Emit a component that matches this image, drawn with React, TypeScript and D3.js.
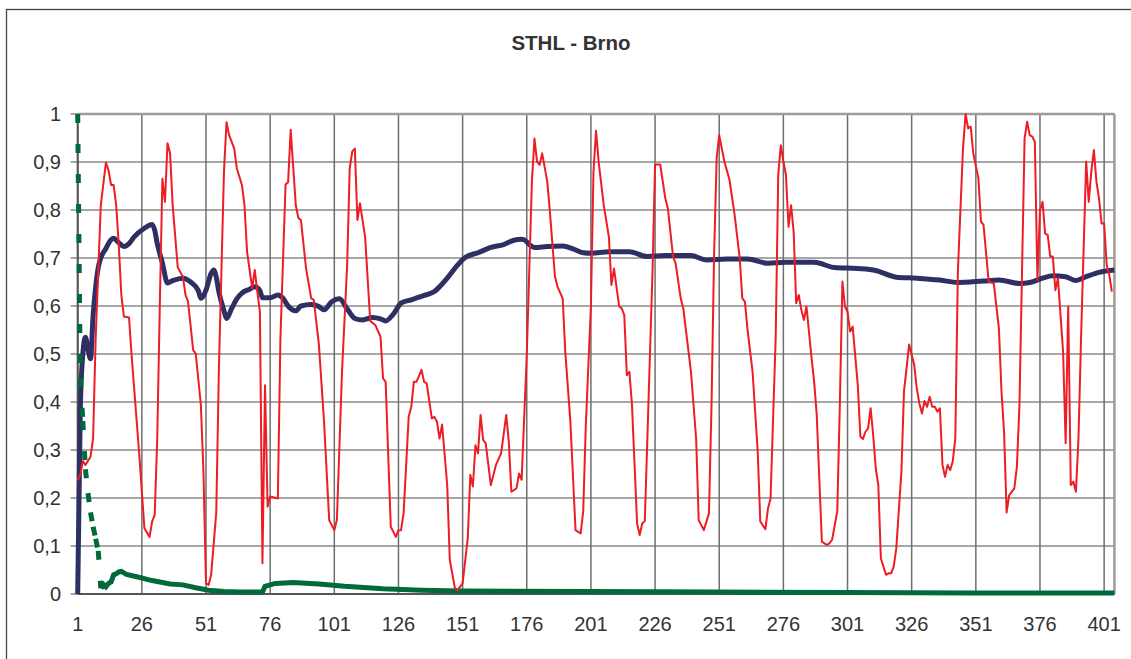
import * as d3 from 'd3';
import React from 'react';

const width = 1131;
const height = 659;
const plot = { left: 77.7, right: 1114.4, top: 114, bottom: 594 };

const title = 'STHL - Brno';
const xTicks = [1, 26, 51, 76, 101, 126, 151, 176, 201, 226, 251, 276, 301, 326, 351, 376, 401];
const yTicks = [0, 0.1, 0.2, 0.3, 0.4, 0.5, 0.6, 0.7, 0.8, 0.9, 1];

// red series, vertices as [index, value]
const redSeries = [
  [1, 0.237], [2, 0.248], [3, 0.277], [4, 0.269], [6, 0.286], [7, 0.324], [8, 0.533], [10, 0.81],
  [12, 0.899], [13, 0.883], [14, 0.852], [15, 0.852], [16, 0.81], [17, 0.727], [18, 0.623], [19, 0.578],
  [21, 0.576], [22, 0.498], [24, 0.359], [25, 0.29], [27, 0.137], [29, 0.119], [30, 0.151], [31, 0.165],
  [32, 0.324], [33, 0.602], [34, 0.865], [35, 0.817], [36, 0.939], [37, 0.918], [38, 0.81], [40, 0.68],
  [42, 0.661], [43, 0.623], [44, 0.609], [46, 0.508], [47, 0.501], [49, 0.394], [50, 0.255], [51, 0.022],
  [52, 0.019], [53, 0.04], [55, 0.17], [56, 0.463], [58, 0.88], [59, 0.983], [60, 0.956], [62, 0.928],
  [63, 0.887], [65, 0.852], [66, 0.81], [67, 0.713], [69, 0.637], [70, 0.675], [71, 0.63], [72, 0.588],
  [73, 0.064], [74, 0.435], [75, 0.182], [76, 0.203], [79, 0.199], [80, 0.533], [82, 0.853], [83, 0.858],
  [84, 0.967], [86, 0.81], [87, 0.783], [88, 0.779], [90, 0.678], [92, 0.616], [93, 0.613], [95, 0.519],
  [97, 0.359], [99, 0.154], [101, 0.133], [102, 0.154], [104, 0.463], [106, 0.685], [107, 0.887], [108, 0.922],
  [109, 0.928], [110, 0.779], [111, 0.814], [113, 0.744], [115, 0.569], [117, 0.56], [119, 0.536], [120, 0.449],
  [121, 0.442], [123, 0.14], [125, 0.119], [126, 0.133], [127, 0.133], [128, 0.168], [130, 0.37], [131, 0.39],
  [132, 0.442], [133, 0.442], [135, 0.467], [136, 0.442], [137, 0.439], [139, 0.366], [140, 0.369], [141, 0.359],
  [142, 0.324], [143, 0.353], [145, 0.227], [146, 0.071], [148, 0.012], [149, 0.008], [151, 0.022], [153, 0.116],
  [154, 0.248], [155, 0.224], [156, 0.31], [157, 0.293], [158, 0.373], [159, 0.321], [160, 0.314], [162, 0.227],
  [164, 0.269], [166, 0.293], [168, 0.373], [169, 0.317], [170, 0.213], [172, 0.22], [173, 0.251], [174, 0.238],
  [176, 0.498], [178, 0.859], [179, 0.949], [180, 0.901], [181, 0.894], [182, 0.918], [184, 0.859], [185, 0.797],
  [187, 0.661], [188, 0.64], [190, 0.616], [191, 0.505], [193, 0.359], [195, 0.133], [197, 0.126], [198, 0.172],
  [199, 0.35], [201, 0.6], [202, 0.88], [203, 0.965], [204, 0.901], [206, 0.81], [208, 0.744], [209, 0.644],
  [210, 0.678], [212, 0.599], [213, 0.595], [214, 0.581], [215, 0.456], [216, 0.463], [217, 0.394], [219, 0.147],
  [220, 0.123], [221, 0.147], [222, 0.152], [223, 0.324], [225, 0.672], [226, 0.895], [228, 0.895], [230, 0.824],
  [231, 0.803], [233, 0.703], [234, 0.689], [236, 0.616], [237, 0.595], [240, 0.463], [242, 0.324], [243, 0.154],
  [245, 0.133], [247, 0.168], [248, 0.394], [249, 0.706], [250, 0.908], [251, 0.956], [253, 0.901], [255, 0.863],
  [257, 0.79], [259, 0.699], [260, 0.616], [261, 0.609], [262, 0.553], [264, 0.463], [266, 0.297], [267, 0.151],
  [269, 0.135], [270, 0.178], [271, 0.199], [273, 0.533], [274, 0.873], [275, 0.935], [276, 0.901], [277, 0.873],
  [278, 0.765], [279, 0.81], [280, 0.755], [281, 0.606], [282, 0.623], [283, 0.592], [284, 0.571], [285, 0.599],
  [287, 0.491], [288, 0.442], [289, 0.373], [291, 0.109], [293, 0.102], [294, 0.106], [295, 0.113], [297, 0.172],
  [298, 0.394], [299, 0.651], [300, 0.599], [301, 0.588], [302, 0.547], [303, 0.557], [305, 0.435], [306, 0.328],
  [307, 0.323], [308, 0.338], [309, 0.345], [310, 0.387], [311, 0.331], [312, 0.262], [313, 0.227], [314, 0.074],
  [316, 0.04], [317, 0.043], [318, 0.043], [319, 0.057], [320, 0.095], [322, 0.255], [323, 0.422], [324, 0.47],
  [325, 0.52], [327, 0.477], [328, 0.428], [329, 0.397], [330, 0.376], [331, 0.402], [332, 0.39], [333, 0.411],
  [334, 0.39], [335, 0.39], [336, 0.38], [337, 0.387], [338, 0.269], [339, 0.244], [340, 0.269], [341, 0.258],
  [342, 0.276], [343, 0.324], [344, 0.672], [346, 0.928], [347, 1.0], [348, 0.97], [349, 0.974], [350, 0.918],
  [352, 0.866], [353, 0.776], [354, 0.769], [356, 0.651], [358, 0.647], [360, 0.553], [361, 0.422], [362, 0.338],
  [363, 0.17], [364, 0.206], [366, 0.22], [367, 0.265], [368, 0.394], [369, 0.672], [370, 0.949], [371, 0.984],
  [372, 0.956], [373, 0.953], [374, 0.942], [375, 0.654], [376, 0.8], [377, 0.817], [378, 0.751], [379, 0.748],
  [380, 0.703], [381, 0.703], [382, 0.633], [383, 0.658], [385, 0.505], [386, 0.314], [387, 0.599], [388, 0.227],
  [389, 0.234], [390, 0.213], [391, 0.324], [392, 0.533], [394, 0.901], [395, 0.817], [396, 0.88], [397, 0.925],
  [398, 0.859], [399, 0.824], [400, 0.772], [401, 0.772], [402, 0.685], [403, 0.665], [404, 0.63],
];

// navy series (smoothed in the original)
const navySeries = [
  [1, 0], [2, 0.38], [3, 0.5], [4, 0.535], [5, 0.51], [6, 0.49], [7, 0.58], [8, 0.64], [9, 0.68], [10, 0.7],
  [12, 0.72], [14, 0.738], [15, 0.741], [17, 0.732], [19, 0.724], [21, 0.73], [23, 0.744], [27, 0.762],
  [30, 0.77], [31, 0.758], [32, 0.73], [34, 0.69], [36, 0.648], [38, 0.653], [42, 0.658], [45, 0.65],
  [48, 0.632], [49, 0.616], [51, 0.633], [53, 0.668], [54, 0.675], [55, 0.66], [56, 0.63], [58, 0.59],
  [59, 0.574], [61, 0.595], [63, 0.615], [65, 0.627], [68, 0.635], [70, 0.64], [72, 0.632], [73, 0.617],
  [76, 0.617], [79, 0.623], [81, 0.616], [83, 0.6], [86, 0.59], [88, 0.6], [92, 0.603], [95, 0.599],
  [97, 0.592], [100, 0.609], [103, 0.615], [106, 0.594], [109, 0.574], [112, 0.571], [116, 0.576], [119, 0.573],
  [121, 0.569], [124, 0.583], [127, 0.606], [131, 0.613], [136, 0.622], [140, 0.63], [142, 0.64], [145, 0.658],
  [149, 0.685], [152, 0.701], [157, 0.711], [162, 0.722], [167, 0.728], [171, 0.737], [174, 0.739], [175, 0.738],
  [177, 0.728], [179, 0.722], [184, 0.724], [190, 0.725], [194, 0.719], [198, 0.711], [201, 0.71], [208, 0.713],
  [216, 0.713], [223, 0.703], [230, 0.705], [240, 0.705], [246, 0.696], [254, 0.698], [262, 0.698], [270, 0.689],
  [277, 0.691], [288, 0.691], [296, 0.68], [305, 0.678], [312, 0.674], [320, 0.66], [328, 0.658], [337, 0.654],
  [344, 0.649], [354, 0.652], [360, 0.654], [368, 0.647], [372, 0.649], [377, 0.658], [381, 0.663], [386, 0.661],
  [390, 0.653], [394, 0.661], [399, 0.67], [405, 0.675],
];

// green series: first points one per index, then the slow tail
const greenHead = [
  [1, 1.0], [2, 0.45], [3, 0.36], [4, 0.26], [5, 0.21], [6, 0.17], [7, 0.14], [8, 0.115], [9, 0.09], [10, 0.012],
];
const greenTail = [
  [10, 0.012], [11, 0.02], [12, 0.015], [13, 0.022], [14, 0.025], [15, 0.04], [16, 0.042], [17, 0.046],
  [18, 0.047], [19, 0.044], [20, 0.041], [24, 0.036], [30, 0.028], [37, 0.021], [42, 0.019], [47, 0.013],
  [52, 0.008], [58, 0.005], [64, 0.004], [70, 0.004], [73, 0.004], [74, 0.016], [78, 0.022], [85, 0.024],
  [95, 0.021], [105, 0.016], [120, 0.011], [135, 0.008], [150, 0.006], [200, 0.005], [250, 0.004], [300, 0.003],
  [350, 0.002], [405, 0.002],
];

const red = '#ee1c25';
const navy = '#2e3064';
const green = '#006a3a';
const font = '"Liberation Sans", Arial, sans-serif';

const fmtY = (d) => String(+d.toFixed(1)).replace('.', ',');

const App = () => {
  const xScale = d3.scaleLinear().domain([1, 405]).range([plot.left, plot.right]);
  const yScale = d3.scaleLinear().domain([0, 1]).range([plot.bottom, plot.top]);

  const line = d3.line().x(d => xScale(d[0])).y(d => yScale(d[1]));
  const smooth = d3.line().x(d => xScale(d[0])).y(d => yScale(d[1])).curve(d3.curveMonotoneX);

  // Excel restarts the dash on every segment, so only the long first segments show gaps
  const headSegments = d3.pairs(greenHead);

  return (
    <svg width={width} height={height} style={{ position: 'absolute', left: 0, top: 0, background: '#fff' }}>
      <rect x={6.5} y={9.5} width={width + 10} height={height + 10} fill='#fff' stroke='#444' strokeWidth='1.3' />
      <text x={571} y={50} textAnchor='middle' fontFamily={font} fontWeight='bold' fontSize='20.5' fill='#333'>{title}</text>

      <g>
        {yTicks.map(t => (
          <line key={'h' + t} x1={plot.left - 7} x2={plot.right} y1={yScale(t)} y2={yScale(t)} stroke='#8a8a8a' strokeWidth='1.6' />
        ))}
        {xTicks.map(t => (
          <line key={'v' + t} x1={xScale(t)} x2={xScale(t)} y1={plot.top} y2={plot.bottom} stroke='#6e6e6e' strokeWidth='1.5' />
        ))}
        <line x1={plot.left} x2={plot.right} y1={plot.top} y2={plot.top} stroke='#a39a94' strokeWidth='2.5' />
        <line x1={plot.right} x2={plot.right} y1={plot.top} y2={plot.bottom} stroke='#a39a94' strokeWidth='2.5' />
        <line x1={plot.left} x2={plot.left} y1={plot.top} y2={plot.bottom} stroke='#555' strokeWidth='2' />
        <line x1={plot.left} x2={plot.right} y1={plot.bottom} y2={plot.bottom} stroke='#555' strokeWidth='2' />
      </g>

      <g fontFamily={font} fontSize='20' fill='#333'>
        {yTicks.map(t => (
          <text key={'yl' + t} x={61} y={yScale(t)} dy='0.35em' textAnchor='end'>{fmtY(t)}</text>
        ))}
        {xTicks.map(t => (
          <text key={'xl' + t} x={xScale(t)} y={631} textAnchor='middle'>{t}</text>
        ))}
      </g>

      <path d={smooth(navySeries)} fill='none' stroke={navy} strokeWidth='5' strokeLinejoin='round' />
      <path d={line(greenTail)} fill='none' stroke={green} strokeWidth='5' />
      {headSegments.map(([a, b], i) => (
        <path key={'g' + i} d={line([a, b])} fill='none' stroke={green} strokeWidth='5' strokeDasharray='9 21' />
      ))}
      <path d={line(redSeries)} fill='none' stroke={red} strokeWidth='2' strokeLinejoin='round' />
    </svg>
  );
};

export default App;
